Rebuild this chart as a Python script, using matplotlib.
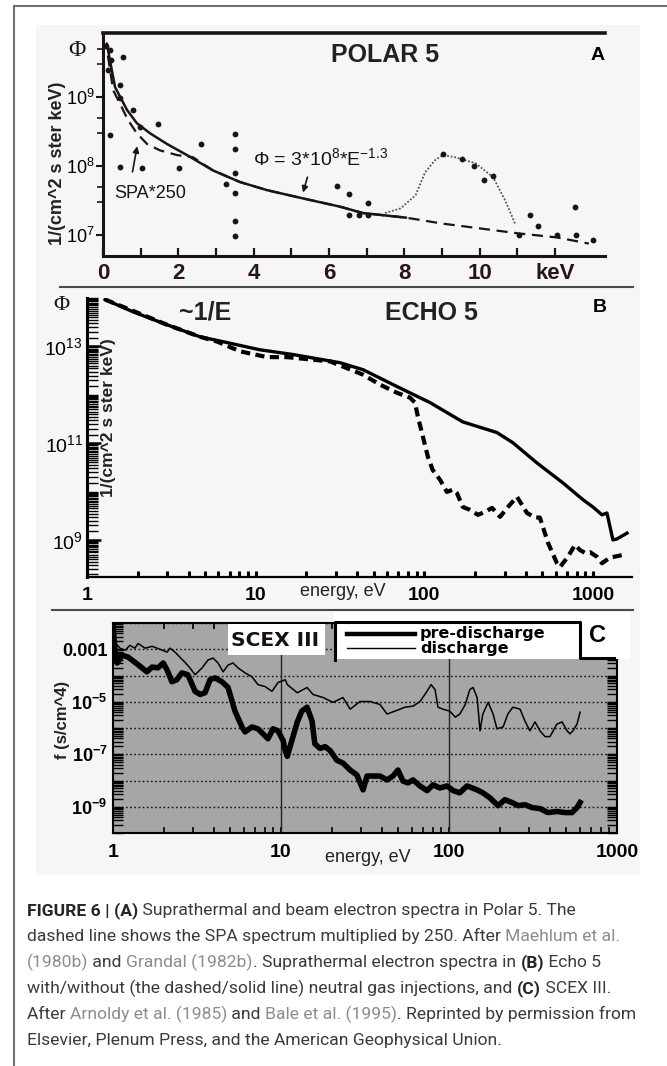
import numpy as np
import matplotlib
matplotlib.use('Agg')
import matplotlib.pyplot as plt
from matplotlib import font_manager
from matplotlib.ticker import FixedLocator, FixedFormatter, NullFormatter, LogLocator
from matplotlib.patches import Rectangle
from matplotlib.lines import Line2D

# ---------------- data: panel A (POLAR 5) ----------------
polar_fit_E = [0.10, 0.32, 0.64, 0.90, 1.25, 1.70, 2.23, 2.92, 3.64, 4.36, 5.23, 6.29, 6.90, 8.05]
polar_fit_phi = [6.0e9, 1.40e9, 6.5e8, 4.2e8, 3.0e8, 2.1e8, 1.45e8, 8.7e7, 5.9e7, 4.5e7, 3.5e7, 2.6e7, 2.1e7, 1.8e7]

spa_E = [0.13, 0.27, 0.45, 0.66, 0.90, 1.17, 1.51, 1.97, 2.39, 2.92, 3.64, 4.36, 5.23, 6.29, 6.90, 8.05, 9.0, 10.0, 11.0, 12.06, 12.9]
spa_phi = [4.0e9, 1.26e9, 8.1e8, 4.7e8, 3.0e8, 2.1e8, 1.7e8, 1.45e8, 1.35e8, 8.7e7, 5.9e7, 4.5e7, 3.5e7, 2.6e7, 2.1e7, 1.8e7, 1.48e7, 1.26e7, 1.07e7, 9.3e6, 7.6e6]

beam_E = [7.49, 7.9, 8.3, 8.55, 8.82, 9.03, 9.35, 9.9, 10.36, 10.68, 10.94]
beam_phi = [2.1e7, 2.45e7, 3.8e7, 8.1e7, 1.23e8, 1.45e8, 1.35e8, 1.10e8, 6.9e7, 3.2e7, 1.48e7]

polar_pts_E = [0.08, 0.13, 0.19, 0.21, 0.53, 0.45, 0.45, 0.80, 0.19, 0.98, 1.46, 0.45, 1.04, 2.02,
               2.60, 3.27, 3.51, 3.51, 3.51, 3.51, 3.51, 3.51, 6.22, 6.53, 6.53, 6.80, 7.04, 7.04,
               9.03, 9.54, 9.85, 10.12, 10.36, 11.34, 11.55, 11.05, 12.06, 12.54, 12.56, 13.01]
polar_pts_phi = [5.6e9, 2.5e9, 4.8e9, 3.5e9, 3.8e9, 1.5e9, 9.8e8, 6.5e8, 2.8e8, 3.7e8, 4.1e8, 9.8e7, 9.3e7, 9.3e7,
                 2.1e8, 5.6e7, 2.9e8, 1.8e8, 7.9e7, 4.1e7, 1.6e7, 9.8e6, 5.2e7, 3.9e7, 1.95e7, 1.95e7, 1.95e7, 2.9e7,
                 1.48e8, 1.26e8, 1.02e8, 6.3e7, 7.2e7, 2.0e7, 1.38e7, 1.0e7, 1.0e7, 2.6e7, 1.02e7, 8.5e6]

polar_xticks = [0, 2, 4, 6, 8, 10, 12]
polar_xlabels = ['0', '2', '4', '6', '8', '10', 'keV']

# ---------------- data: panel B (ECHO 5) ----------------
echo_solid_E = [1.28, 1.87, 2.98, 4.67, 6.76, 10.6, 16.6, 31.6, 43.3, 68.8, 108, 169, 269, 335, 465,
                663, 871, 998, 1130, 1209, 1312, 1387, 1589]
echo_solid_phi = [9.3e13, 5.2e13, 2.8e13, 1.58e13, 1.20e13, 8.5e12, 6.8e12, 4.6e12, 3.3e12, 1.48e12, 6.9e11,
                  2.75e11, 1.66e11, 1.02e11, 3.9e10, 1.51e10, 6.8e9, 4.8e9, 3.3e9, 3.6e9, 1.0e9, 1.05e9, 1.38e9]

echo_gas_E = [1.28, 2.98, 4.67, 5.9, 8.07, 11.7, 15.3, 27.6, 43.3, 54.6, 68.8, 82.2, 88, 91.6, 98.1, 105,
              112, 124, 136, 148, 156, 169, 186, 208, 229, 252, 281, 313, 354, 406, 453, 484, 541, 611,
              637, 710, 782, 836, 895, 959, 1054, 1130, 1259, 1503]
echo_gas_phi = [9.3e13, 2.8e13, 1.58e13, 1.26e13, 7.9e12, 6.0e12, 6.0e12, 4.9e12, 2.6e12, 1.62e12, 1.10e12,
                8.7e11, 6.9e11, 3.5e11, 1.35e11, 5.2e10, 2.8e10, 1.74e10, 9.8e9, 1.10e10, 9.3e9, 4.8e9,
                4.2e9, 3.3e9, 3.8e9, 4.6e9, 3.0e9, 4.8e9, 7.8e9, 3.6e9, 2.9e9, 2.9e9, 8.7e8, 3.3e8,
                2.75e8, 4.5e8, 7.9e8, 6.2e8, 5.4e8, 5.6e8, 4.5e8, 3.3e8, 4.3e8, 4.9e8]

echo_xticks = [1, 10, 100, 1000]
echo_yticks = [1e9, 1e11, 1e13]

# ---------------- data: panel C (SCEX III) ----------------
scex_dis_E = [1.0, 1.03, 1.10, 1.18, 1.26, 1.35, 1.41, 1.55, 1.71, 1.83, 2.10, 2.18, 2.34, 2.50, 2.68,
              2.87, 3.08, 3.39, 3.68, 3.94, 4.22, 4.52, 4.84, 5.18, 5.55, 6.11, 6.72, 7.29, 8.03, 8.84,
              9.60, 10.6, 10.9, 12.5, 14.3, 15.5, 17.8, 20.4, 23.4, 25.8, 29.5, 33.9, 38.8, 42.8, 47.7,
              54.7, 61.1, 67.2, 74.0, 78.2, 82.6, 86.0, 92.1, 101, 109, 116, 125, 133, 139, 147, 153,
              159, 171, 183, 193, 210, 224, 240, 265, 283, 303, 325, 348, 373, 399, 439, 471, 504, 525,
              547, 578, 603]
scex_dis_f = [7.9e-3, 1.8e-3, 1.1e-3, 9.1e-4, 1.4e-3, 1.1e-3, 1.66e-3, 1.1e-3, 1.29e-3, 1.1e-3, 7.8e-4,
              1.1e-3, 7.8e-4, 5.0e-4, 3.2e-4, 1.95e-4, 1.07e-4, 1.95e-4, 3.9e-4, 4.6e-4, 3.0e-4, 1.38e-4,
              2.5e-4, 3.0e-4, 1.95e-4, 1.26e-4, 8.9e-5, 4.5e-5, 3.8e-5, 2.5e-5, 5.4e-5, 6.9e-5, 4.5e-5,
              2.2e-5, 3.5e-5, 1.9e-5, 1.45e-5, 9.5e-6, 1.45e-5, 5.2e-6, 1.02e-5, 1.02e-5, 7.9e-6, 3.4e-6,
              4.4e-6, 6.2e-6, 6.8e-6, 1.02e-5, 2.5e-5, 4.5e-5, 2.9e-5, 6.2e-6, 5.2e-6, 4.4e-6, 2.6e-6,
              3.4e-6, 7.9e-6, 2.9e-5, 3.5e-5, 1.45e-5, 7.8e-7, 3.4e-6, 9.5e-6, 3.4e-6, 9.3e-7, 1.1e-6,
              3.4e-6, 6.2e-6, 5.2e-6, 1.86e-6, 7.8e-7, 1.7e-6, 7.8e-7, 4.7e-7, 4.7e-7, 1.41e-6, 1.7e-6,
              7.8e-7, 6.0e-7, 7.8e-7, 1.41e-6, 4.0e-6]

scex_pre_E = [1.0, 1.03, 1.06, 1.13, 1.23, 1.35, 1.49, 1.59, 1.71, 1.85, 1.99, 2.10, 2.24, 2.40, 2.57,
              2.79, 3.08, 3.30, 3.53, 3.78, 4.05, 4.45, 4.84, 5.32, 5.86, 6.11, 6.72, 7.29, 7.81, 8.37,
              8.96, 9.60, 10.3, 10.6, 10.9, 11.6, 12.5, 13.3, 14.3, 15.3, 15.9, 17.1, 18.3, 19.6, 21.5,
              23.4, 25.8, 28.3, 30.8, 32.5, 35.3, 38.8, 42.8, 46.4, 49.7, 53.2, 57.0, 61.1, 67.2, 74.0,
              80.3, 88.3, 97.3, 106, 116, 128, 147, 159, 175, 196, 215, 237, 258, 283, 312, 348, 388,
              439, 490, 540, 578, 603]
scex_pre_f = [7.9e-3, 7.8e-4, 3.0e-4, 6.0e-4, 5.0e-4, 3.2e-4, 1.95e-4, 1.38e-4, 2.1e-4, 1.95e-4, 3.0e-4,
              1.62e-4, 5.8e-5, 6.9e-5, 1.26e-4, 1.07e-4, 2.5e-5, 1.9e-5, 2.2e-5, 6.9e-5, 8.1e-5, 5.8e-5,
              3.5e-5, 4.4e-6, 1.1e-6, 7.1e-7, 1.1e-6, 9.3e-7, 6.0e-7, 3.9e-7, 9.3e-7, 7.8e-7, 3.3e-7,
              1.38e-7, 8.3e-8, 3.3e-7, 1.7e-6, 4.4e-6, 6.2e-6, 1.86e-6, 2.5e-7, 1.66e-7, 1.95e-7, 1.38e-7,
              5.9e-8, 4.6e-8, 2.5e-8, 1.62e-8, 4.4e-9, 1.48e-8, 1.48e-8, 1.48e-8, 1.05e-8, 1.48e-8, 2.5e-8,
              9.5e-9, 8.1e-9, 1.05e-8, 6.2e-9, 4.1e-9, 6.8e-9, 5.2e-9, 6.2e-9, 4.1e-9, 3.4e-9, 6.2e-9,
              4.4e-9, 3.4e-9, 2.2e-9, 1.1e-9, 1.86e-9, 1.45e-9, 1.1e-9, 1.2e-9, 9.3e-10, 8.5e-10, 6.0e-10,
              6.6e-10, 6.0e-10, 6.0e-10, 9.3e-10, 1.45e-9]

scex_xticks = [1, 10, 100, 1000]
scex_ydecades = [1e-10, 1e-9, 1e-8, 1e-7, 1e-6, 1e-5, 1e-4, 1e-3, 1e-2]
scex_ylabels = {1e-3: '0.001', 1e-5: r'$\mathbf{10^{-5}}$', 1e-7: r'$\mathbf{10^{-7}}$', 1e-9: r'$\mathbf{10^{-9}}$'}
scex_legend = ['pre-discharge', 'discharge']

# ---------------- figure setup ----------------
plt.rcParams['font.family'] = ['Liberation Sans', 'DejaVu Sans']
plt.rcParams['mathtext.fontset'] = 'custom'
plt.rcParams['mathtext.rm'] = 'Liberation Sans'
plt.rcParams['mathtext.it'] = 'Liberation Sans:italic'
plt.rcParams['mathtext.bf'] = 'Liberation Sans:bold'

W, H = 667, 1066
fig = plt.figure(figsize=(W / 100, H / 100), dpi=100)
fig.patch.set_facecolor('white')
INK = '#1c1414'


def fx(x):
    return x / W


def fy(y):
    return 1 - y / H


def axrect(x0, y0, x1, y1):
    return [fx(x0), fy(y1), fx(x1) - fx(x0), fy(y0) - fy(y1)]


def fline(xs, ys, **kw):
    fig.add_artist(Line2D([fx(x) for x in xs], [fy(y) for y in ys], transform=fig.transFigure, **kw))


# page frame and scanned-image background
fig.add_artist(Rectangle((fx(36), fy(875)), fx(640) - fx(36), fy(25) - fy(875),
                         transform=fig.transFigure, facecolor='#f6f6f6', edgecolor='none', zorder=-5))
fline([14, 667], [6, 6], color='#707070', lw=1.5)
fline([14, 14], [6, 1066], color='#707070', lw=1.5)
fline([60, 633], [287, 287], color='#4a4a4a', lw=1.5)
fline([52, 633], [610, 610], color='#4a4a4a', lw=1.5)

# ================= Panel A =================
axA = fig.add_axes(axrect(103, 33, 605, 256))
axA.patch.set_alpha(0)
axA.set_yscale('log')
axA.plot(polar_fit_E, polar_fit_phi, color=INK, lw=1.8, solid_capstyle='round')
axA.plot(spa_E, spa_phi, color=INK, lw=1.6, dashes=(5, 3))
axA.plot(beam_E, beam_phi, color='#555555', lw=1.3, ls=(0, (1, 1)))
axA.plot(polar_pts_E, polar_pts_phi, 'o', color=INK, ms=4.2, mec='none')
axA.set_xlim(0, 13.33)
axA.set_ylim(10 ** 6.70, 10 ** 9.93)
axA.spines['right'].set_visible(False)
axA.spines['top'].set_linewidth(2.6)
axA.spines['left'].set_linewidth(2.2)
axA.spines['bottom'].set_linewidth(2.2)
for s in axA.spines.values():
    s.set_color(INK)
axA.xaxis.set_major_locator(FixedLocator(polar_xticks))
axA.xaxis.set_major_formatter(FixedFormatter(polar_xlabels))
axA.xaxis.set_minor_locator(FixedLocator([1, 3, 5, 7, 9, 11]))
axA.tick_params(axis='x', which='both', direction='in', length=6, width=1.6, color=INK, top=False)
axA.tick_params(axis='x', which='major', labelsize=16, pad=5, labelcolor='#2a1515')
for t in axA.get_xticklabels():
    t.set_fontweight('bold')
axA.yaxis.set_major_locator(FixedLocator([1e7, 1e8, 1e9]))
axA.yaxis.set_major_formatter(FixedFormatter([r'$10^7$', r'$10^8$', r'$10^9$']))
axA.yaxis.set_minor_locator(LogLocator(base=10, subs=(3.0, 5.0)))
axA.yaxis.set_minor_formatter(NullFormatter())
axA.tick_params(axis='y', which='major', direction='out', length=5, width=1.5, labelsize=13, pad=1, color=INK)
axA.tick_params(axis='y', which='minor', direction='out', length=4, width=1.2, color=INK)

fig.text(fx(58), fy(163), '1/(cm^2 s ster keV)', rotation=90, ha='center', va='center',
         fontsize=13, fontweight='bold', color='#222222')
fig.text(fx(77), fy(50), 'Φ', family='Liberation Serif', fontsize=17, ha='center', va='center', color=INK)
fig.text(fx(385), fy(55), 'POLAR 5', fontsize=18, fontweight='bold', ha='center', va='center', color='#222222')
fig.text(fx(598), fy(55), 'A', fontsize=14, fontweight='bold', ha='center', va='center', color='black')
axA.text(3.98, 10 ** 8.12, r'Φ = 3*10$^8$*E$^{-1.3}$', fontsize=14, ha='left', va='center', color=INK)
axA.annotate('', xy=(5.29, 10 ** 7.58), xytext=(5.45, 10 ** 7.88),
             arrowprops=dict(arrowstyle='-|>', color=INK, lw=1.2, mutation_scale=9))
axA.text(1.25, 10 ** 7.61, 'SPA*250', fontsize=13, ha='center', va='center', color=INK)
axA.annotate('', xy=(0.92, 10 ** 8.33), xytext=(0.77, 10 ** 7.88),
             arrowprops=dict(arrowstyle='-|>', color=INK, lw=1.2, mutation_scale=9))

# ================= Panel B =================
axB = fig.add_axes(axrect(87, 298, 632, 577))
axB.patch.set_alpha(0)
axB.set_xscale('log')
axB.set_yscale('log')
axB.plot(echo_solid_E, echo_solid_phi, color='black', lw=2.4)
axB.plot(echo_gas_E, echo_gas_phi, color='black', lw=3.0, dashes=(2.2, 1.3))
axB.set_xlim(1, 10 ** 3.231)
axB.set_ylim(10 ** 8.234, 10 ** 14.0)
axB.spines['right'].set_visible(False)
axB.spines['top'].set_visible(False)
axB.spines['left'].set_linewidth(2.2)
axB.spines['bottom'].set_linewidth(1.6)
axB.xaxis.set_major_locator(FixedLocator(echo_xticks))
axB.xaxis.set_major_formatter(FixedFormatter(['1', '10', '100', '1000']))
axB.xaxis.set_minor_locator(LogLocator(base=10, subs=np.arange(2, 10)))
axB.xaxis.set_minor_formatter(NullFormatter())
axB.tick_params(axis='x', which='both', direction='in', length=4, width=2.2, labelsize=14, pad=7)
for t in axB.get_xticklabels():
    t.set_fontweight('bold')
axB.yaxis.set_major_locator(FixedLocator(echo_yticks))
axB.yaxis.set_major_formatter(FixedFormatter([r'$10^{9}$', r'$10^{11}$', r'$10^{13}$']))
axB.yaxis.set_minor_locator(LogLocator(base=10, subs=np.arange(1.0, 10.0, 0.5), numticks=40))
axB.yaxis.set_minor_formatter(NullFormatter())
axB.tick_params(axis='y', which='major', direction='in', length=10, width=1.8, labelsize=14, pad=3)
axB.tick_params(axis='y', which='minor', direction='in', length=8, width=1.0)

fig.text(fx(343), fy(592), 'energy, eV', fontsize=13, ha='center', va='center', color='#222222')
fig.text(fx(109), fy(418), '1/(cm^2 s ster keV)', rotation=90, ha='center', va='center',
         fontsize=12.5, fontweight='bold', color='#222222')
fig.text(fx(61), fy(305), 'Φ', family='Liberation Serif', fontsize=16, ha='center', va='center', color=INK)
fig.text(fx(205), fy(312), '~1/E', fontsize=18, fontweight='bold', ha='center', va='center', color='#222222')
fig.text(fx(431), fy(313), 'ECHO 5', fontsize=18, fontweight='bold', ha='center', va='center', color='#222222')
fig.text(fx(600), fy(307), 'B', fontsize=14, fontweight='bold', ha='center', va='center', color='black')

# ================= Panel C =================
axC = fig.add_axes(axrect(113, 623, 617, 833))
axC.set_facecolor('#a6a6a6')
axC.set_xscale('log')
axC.set_yscale('log')
axC.set_xlim(1, 1000)
axC.set_ylim(1e-10, 1e-2)
axC.yaxis.set_major_locator(FixedLocator(scex_ydecades))
axC.yaxis.set_major_formatter(FixedFormatter([scex_ylabels.get(v, '') for v in scex_ydecades]))
axC.yaxis.set_minor_locator(LogLocator(base=10, subs=np.arange(2, 10), numticks=40))
axC.yaxis.set_minor_formatter(NullFormatter())
axC.grid(axis='y', which='major', color='#111111', ls=(0, (1.2, 1.8)), lw=1.0)
for v in [10, 100]:
    axC.axvline(v, color='#222222', lw=1.0)
axC.plot(scex_dis_E, scex_dis_f, color='black', lw=1.1)
axC.plot(scex_pre_E, scex_pre_f, color='black', lw=4.0, solid_joinstyle='round')
for s in axC.spines.values():
    s.set_linewidth(1.5)
axC.xaxis.set_major_locator(FixedLocator(scex_xticks))
axC.xaxis.set_major_formatter(FixedFormatter(['1', '10', '100', '1000']))
axC.xaxis.set_minor_locator(LogLocator(base=10, subs=np.arange(2, 10)))
axC.xaxis.set_minor_formatter(NullFormatter())
axC.tick_params(axis='x', which='both', direction='in', length=4, width=1.2, top=True, labelsize=14, pad=8)
for t in axC.get_xticklabels():
    t.set_fontweight('bold')
axC.tick_params(axis='y', which='both', direction='in', left=True, right=True, length=7, width=1.0,
                labelsize=13, pad=4)
for t in axC.get_yticklabels():
    t.set_fontweight('bold')

fig.text(fx(368), fy(858), 'energy, eV', fontsize=13, ha='center', va='center', color='#222222')
fig.text(fx(63), fy(720), 'f (s/cm^4)', rotation=90, ha='center', va='center',
         fontsize=12, fontweight='bold', color='#222222')

# white label box and legend overlay
fig.add_artist(Rectangle((fx(228), fy(655)), fx(325) - fx(228), fy(624) - fy(655), transform=fig.transFigure,
                         facecolor='white', edgecolor='none', zorder=3))
fig.text(fx(275), fy(640), 'SCEX III', family='DejaVu Sans', fontsize=14.5, fontweight='bold',
         ha='center', va='center', color='#1a1010', zorder=4)
fig.add_artist(Rectangle((fx(334), fy(659)), fx(630) - fx(334), fy(612) - fy(659), transform=fig.transFigure,
                         facecolor='white', edgecolor='none', zorder=3))
fline([335, 335, 580, 580, 614], [660, 622, 622, 658, 658], color='black', lw=2.2, zorder=4)
fline([347, 415], [634, 634], color='black', lw=3.2, zorder=4)
fline([347, 415], [648, 648], color='black', lw=1.0, zorder=4)
fig.text(fx(420), fy(641), '\n'.join(scex_legend), family='DejaVu Sans', fontsize=11.5, fontweight='bold',
         ha='left', va='center', color='black', linespacing=0.95, zorder=4)
fig.text(fx(598), fy(636), 'C', fontsize=17, fontweight='bold', ha='center', va='center', color='black', zorder=4)

# ================= Caption =================
names = {f.name for f in font_manager.fontManager.ttflist}
if 'Liberation Sans Narrow' in names:
    cap_family, cap_size = 'Liberation Sans Narrow', 13.2
else:
    cap_family, cap_size = 'Roboto', 12.6

styles = {
    'b': dict(color='#262626', fontweight='bold'),
    'n': dict(color='#3a3a3a', fontweight='normal'),
    'c': dict(color='#8c8c8c', fontweight='normal'),
}
caption_lines = [
    [('FIGURE 6 | (A)', 'b'), (' Suprathermal and beam electron spectra in Polar 5. The', 'n')],
    [('dashed line shows the SPA spectrum multiplied by 250. After ', 'n'), ('Maehlum et al.', 'c')],
    [('(1980b)', 'c'), (' and ', 'n'), ('Grandal (1982b)', 'c'), ('. Suprathermal electron spectra in ', 'n'),
     ('(B)', 'b'), (' Echo 5', 'n')],
    [('with/without (the dashed/solid line) neutral gas injections, and ', 'n'), ('(C)', 'b'), (' SCEX III.', 'n')],
    [('After ', 'n'), ('Arnoldy et al. (1985)', 'c'), (' and ', 'n'), ('Bale et al. (1995)', 'c'),
     ('. Reprinted by permission from', 'n')],
    [('Elsevier, Plenum Press, and the American Geophysical Union.', 'n')],
]
baselines = [915, 941, 967, 993, 1019, 1045]
renderer = fig.canvas.get_renderer()
for pieces, yb in zip(caption_lines, baselines):
    x = 27.0
    for txt, st in pieces:
        t = fig.text(fx(x), fy(yb), txt, family=[cap_family, 'DejaVu Sans'], fontsize=cap_size,
                     ha='left', va='baseline', **styles[st])
        x += t.get_window_extent(renderer=renderer).width

fig.savefig('out.png', dpi=100)
